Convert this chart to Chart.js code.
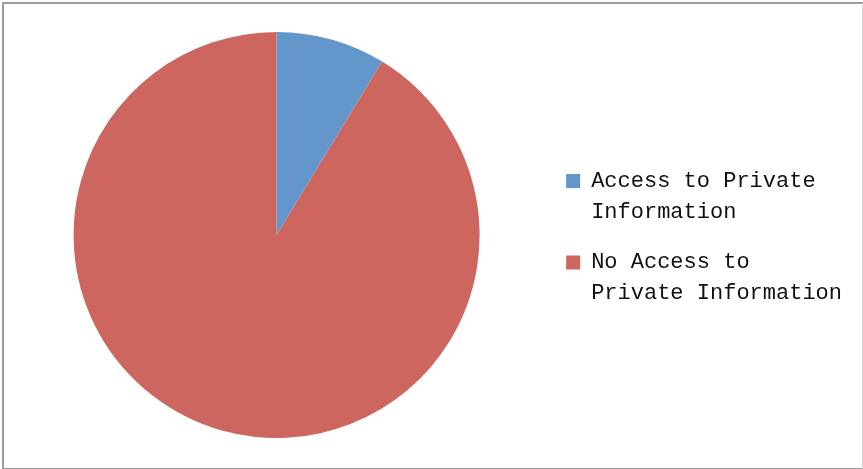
<!DOCTYPE html>
<html>
<head>
<meta charset="utf-8">
<script src="https://cdn.jsdelivr.net/npm/chart.js@4/dist/chart.umd.min.js"></script>
<style>
  html, body { margin: 0; padding: 0; background: #fff; }
  body { width: 863px; height: 469px; position: relative; overflow: hidden; }
  .frame {
    position: absolute; left: 2px; top: 2px; width: 858px; height: 464px;
    border: 2px solid #9c9c9c; border-right: 1px solid #d9d9d9; box-sizing: content-box;
  }
  .frame canvas { display: block; }
</style>
</head>
<body>
<div class="frame">
  <canvas id="myChart" width="857" height="462"></canvas>
</div>
<script>
  // two-line legend entries
  const labels = [
    ["Access to Private", "Information"],
    ["No Access to", "Private Information"]
  ];
  const shares = [8.7, 91.3];
  const colors = ['#6397cc', '#cd665f'];

  const data = {
    labels: labels,
    datasets: [{
      data: shares,
      backgroundColor: colors,
      borderWidth: 0
    }]
  };

  const config = {
    type: 'pie',
    data: data,
    options: {
      responsive: false,
      animation: false,
      layout: {
        padding: { top: 28, bottom: 28, left: 3, right: 9 }
      },
      plugins: {
        tooltip: { enabled: false },
        legend: {
          position: 'right',
          align: 'center',
          // blank title just nudges the entries down a little
          title: {
            display: true,
            text: ' ',
            padding: 0,
            font: { size: 10, lineHeight: 1.3 }
          },
          labels: {
            boxWidth: 14,
            boxHeight: 14,
            padding: 20,
            color: '#111',
            font: { family: 'Liberation Mono', size: 22, lineHeight: 1.4 }
          }
        }
      }
    }
  };

  const myChart = new Chart(
    document.getElementById('myChart'),
    config
  );
</script>
</body>
</html>
